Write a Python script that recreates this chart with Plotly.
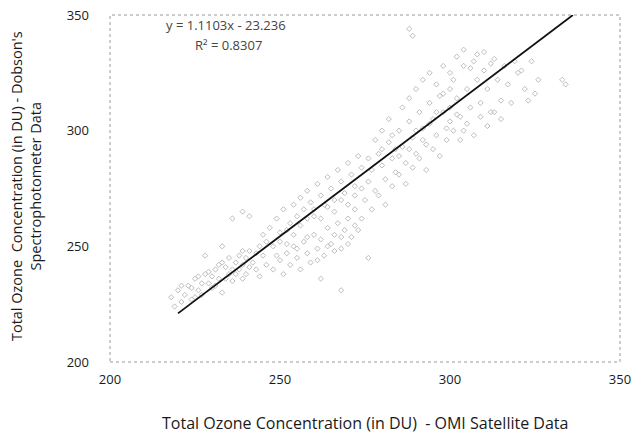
import plotly.graph_objects as go

# OMI satellite (x) vs Dobson spectrophotometer (y), values in DU
omi_x = [
    # lower-left cluster
    218, 219, 220, 221, 222, 223, 224, 225, 226, 227, 228, 229, 230, 231, 232, 233, 234, 235, 236, 237,
    238, 239, 240, 221, 224, 226, 229, 231, 233, 235, 236, 238, 239, 240, 241, 242, 243, 244, 245, 225,
    227, 230, 232, 234, 237, 239, 241, 243, 244, 246, 236, 239, 241, 228, 233,
    # middle, below trend
    248, 250, 251, 252, 253, 254, 255, 256, 257, 258, 259, 260, 261, 262, 263, 264, 265, 266, 267, 268,
    269, 270, 271, 272, 249, 252, 255, 258, 261, 264, 266, 268, 270, 272, 273, 274,
    # middle, above trend
    245, 247, 249, 250, 251, 253, 254, 255, 256, 257, 258, 259, 260, 261, 262, 263, 264, 265, 266, 267,
    268, 269, 270, 271, 272, 273, 274, 246, 248, 250, 252, 254, 256, 258, 260, 262, 264, 266, 268, 270,
    272, 274,
    # middle outliers
    268, 262, 276,
    # upper cloud
    275, 276, 277, 278, 279, 280, 281, 282, 283, 284, 285, 286, 287, 288, 289, 290, 291, 292, 293, 294,
    295, 296, 297, 298, 299, 300, 276, 278, 280, 282, 284, 286, 288, 290, 292, 294, 296, 298, 300, 277,
    279, 281, 283, 285, 287, 289, 291, 293, 295, 297, 299, 280, 283, 285, 288, 290, 292, 294, 296, 298,
    300, 288, 289,
    # top-right cloud
    301, 302, 303, 304, 305, 306, 307, 308, 309, 310, 311, 312, 313, 314, 315, 316, 317, 318, 320, 322,
    324, 326, 301, 303, 305, 307, 309, 311, 313, 315, 302, 304, 306, 308, 310, 312, 319, 321, 323, 325,
    333, 334, 300, 302, 304,
]
dobson_y = [
    # lower-left cluster
    228, 224, 231, 226, 229, 233, 227, 236, 231, 229, 238, 234, 232, 240, 236, 230, 241, 238, 235, 243,
    240, 236, 245, 233, 232, 237, 239, 233, 243, 245, 240, 246, 242, 238, 248, 243, 240, 250, 246, 228,
    234, 237, 242, 236, 238, 248, 241, 247, 237, 242, 262, 265, 263, 246, 250,
    # middle, below trend
    240, 244, 238, 247, 242, 250, 245, 240, 252, 247, 243, 255, 249, 253, 246, 258, 251, 255, 260, 249,
    257, 262, 254, 259, 246, 251, 249, 254, 244, 250, 248, 254, 251, 266, 257, 262,
    # middle, above trend
    255, 258, 262, 256, 266, 260, 268, 263, 271, 266, 274, 269, 263, 277, 272, 268, 280, 275, 270, 283,
    278, 273, 286, 281, 276, 289, 284, 252, 250, 252, 257, 255, 259, 262, 266, 262, 267, 265, 270, 268,
    272, 275,
    # middle outliers
    231, 236, 245,
    # upper cloud
    270, 278, 283, 274, 290, 285, 279, 295, 288, 282, 300, 293, 286, 304, 297, 290, 308, 301, 294, 312,
    305, 298, 315, 308, 301, 318, 288, 296, 300, 305, 292, 310, 314, 318, 322, 325, 320, 328, 325, 266,
    272, 268, 276, 281, 277, 284, 288, 283, 292, 289, 296, 292, 298, 289, 292, 300, 296, 303, 308, 316,
    310, 344, 341,
    # top-right cloud
    322, 314, 306, 328, 318, 310, 330, 322, 312, 326, 318, 308, 331, 322, 313, 328, 320, 312, 325, 318,
    330, 322, 300, 296, 303, 298, 306, 302, 308, 305, 332, 335, 327, 333, 334, 329, 330, 326, 313, 316,
    322, 320, 304, 307, 300,
]

x_ticks = [200, 250, 300, 350]
y_ticks = [200, 250, 300, 350]

trend_slope = 1.1103
trend_intercept = -23.236
trend_r2 = 0.8307
trend_x_start = 220

x_title = "Total Ozone Concentration (in DU)  - OMI Satellite Data"
y_title = "Total Ozone  Concentration (in DU) - Dobson's<br>Spectrophotometer Data"

trend_x_end = (350 - trend_intercept) / trend_slope
trend_x = [trend_x_start, trend_x_end]
trend_y = [trend_slope * v + trend_intercept for v in trend_x]

FONT = "Open Sans"
TXT = "#1a1a1a"

fig = go.Figure()
fig.add_trace(go.Scatter(
    x=omi_x, y=dobson_y, mode="markers",
    marker=dict(symbol="diamond-open", size=4, color="#bdbdbd", line=dict(width=1)),
    showlegend=False, hoverinfo="x+y",
))
fig.add_trace(go.Scatter(
    x=trend_x, y=trend_y, mode="lines",
    line=dict(color="#111111", width=1.8),
    showlegend=False, hoverinfo="skip",
))

fig.update_layout(
    template="none",
    width=635, height=434,
    margin=dict(l=110, r=15, t=15, b=72, autoexpand=False),
    paper_bgcolor="white", plot_bgcolor="white",
    font=dict(family=FONT, size=12, color=TXT),
    xaxis=dict(range=[200, 350], tickvals=x_ticks, showgrid=False, zeroline=False,
               showline=False, ticks="", automargin=False, ticklabeloverflow="allow",
               tickfont=dict(family=FONT, size=13, color=TXT), ticklabelstandoff=8),
    yaxis=dict(range=[200, 350], tickvals=y_ticks, showgrid=False, zeroline=False,
               showline=False, ticks="", automargin=False, ticklabeloverflow="allow",
               tickfont=dict(family=FONT, size=13, color=TXT), ticklabelstandoff=20),
    shapes=[dict(type="rect", xref="paper", yref="paper", x0=0, y0=0, x1=1, y1=1,
                 line=dict(color="#9a9a9a", width=1, dash="dot"))],
    annotations=[
        dict(text=x_title, xref="paper", yref="paper", x=0.5, y=0, yshift=-61,
             showarrow=False, xanchor="center", yanchor="middle",
             font=dict(family=FONT, size=16, color=TXT)),
        dict(text=y_title, xref="paper", yref="paper", x=0, y=0.507, xshift=-105,
             showarrow=False, xanchor="left", yanchor="middle", textangle=-90,
             font=dict(family=FONT, size=14.5, color=TXT)),
        dict(text=f"y = {trend_slope}x - {abs(trend_intercept)}", xref="paper", yref="paper",
             x=0.227, y=0.97, showarrow=False, xanchor="center", yanchor="middle",
             font=dict(family=FONT, size=13, color="#444444")),
        dict(text=f"R² = {trend_r2}", xref="paper", yref="paper",
             x=0.232, y=0.913, showarrow=False, xanchor="center", yanchor="middle",
             font=dict(family=FONT, size=13, color="#444444")),
    ],
)

# remove the page body's default 8px margin so the figure fills the window exactly
fig.write_html("out.html", config={"displayModeBar": False},
               post_script="document.body.style.margin='0';")
